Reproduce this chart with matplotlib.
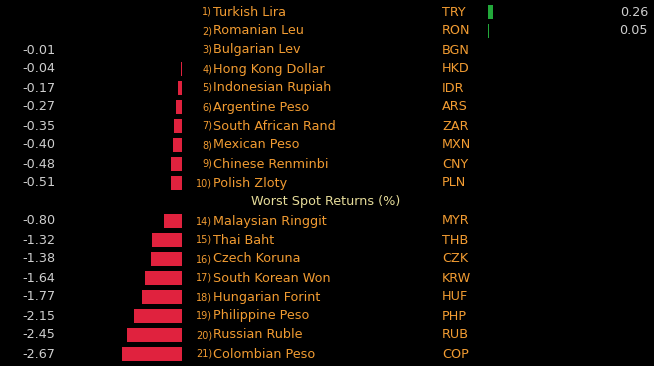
import matplotlib.pyplot as plt

# Daten
best_ranks = [1, 2, 3, 4, 5, 6, 7, 8, 9, 10]
best_names = ["Turkish Lira", "Romanian Leu", "Bulgarian Lev", "Hong Kong Dollar",
              "Indonesian Rupiah", "Argentine Peso", "South African Rand",
              "Mexican Peso", "Chinese Renminbi", "Polish Zloty"]
best_codes = ["TRY", "RON", "BGN", "HKD", "IDR", "ARS", "ZAR", "MXN", "CNY", "PLN"]
best_values = [0.26, 0.05, -0.01, -0.04, -0.17, -0.27, -0.35, -0.40, -0.48, -0.51]

worst_ranks = [14, 15, 16, 17, 18, 19, 20, 21]
worst_names = ["Malaysian Ringgit", "Thai Baht", "Czech Koruna", "South Korean Won",
               "Hungarian Forint", "Philippine Peso", "Russian Ruble", "Colombian Peso"]
worst_codes = ["MYR", "THB", "CZK", "KRW", "HUF", "PHP", "RUB", "COP"]
worst_values = [-0.80, -1.32, -1.38, -1.64, -1.77, -2.15, -2.45, -2.67]

ranks = best_ranks + worst_ranks
names = best_names + worst_names
codes = best_codes + worst_codes
values = best_values + worst_values
rows = list(range(10)) + list(range(11, 19))

BG = "#000000"
ORANGE = "#f29c32"
GREY = "#cfcfcf"
HEADER = "#e6dc9a"
RED = "#e0223e"
GREEN = "#22a83a"

W, H = 654, 366
fig = plt.figure(figsize=(W / 100, H / 100), dpi=100, facecolor=BG)

# Zeilen: Pixel y = 12 + 19 * Index
ylim = ((H - 12) / 19, -12 / 19)

# Textachse in Pixeln
ax = fig.add_axes([0, 0, 1, 1], facecolor=BG)
ax.set_xlim(0, W)
ax.set_ylim(*ylim)
ax.axis("off")

# Balken negativ (Null bei x=182)
neg_scale = 22.5
axn = fig.add_axes([0, 0, 1, 1], facecolor="none")
axn.set_xlim(-182 / neg_scale, (W - 182) / neg_scale)
axn.set_ylim(*ylim)
axn.axis("off")

# Balken positiv (Null bei x=488)
pos_scale = 19
axp = fig.add_axes([0, 0, 1, 1], facecolor="none")
axp.set_xlim(-488 / pos_scale, (W - 488) / pos_scale)
axp.set_ylim(*ylim)
axp.axis("off")

fs = 9.2
for r, rank, name, code, v in zip(rows, ranks, names, codes, values):
    ax.text(212, r, f"{rank})", color=ORANGE, fontsize=7, ha="right", va="center")
    ax.text(213, r, name, color=ORANGE, fontsize=fs, ha="left", va="center")
    ax.text(442, r, code, color=ORANGE, fontsize=fs, ha="left", va="center")
    if v < 0:
        axn.barh(r, v, height=0.72, color=RED)
        ax.text(22, r, f"{v:.2f}", color=GREY, fontsize=fs, ha="left", va="center")
    else:
        axp.barh(r, v, height=0.72, color=GREEN)
        ax.text(648, r, f"{v:.2f}", color=GREY, fontsize=fs, ha="right", va="center")

# oberer Titel ist im Original abgeschnitten
ax.text(328, -0.95, "Best Spot Returns (%)", color=HEADER, fontsize=fs, ha="center", va="center")
ax.text(326, 10, "Worst Spot Returns (%)", color=HEADER, fontsize=fs, ha="center", va="center")

fig.savefig("out.png", dpi=100, facecolor=BG)
